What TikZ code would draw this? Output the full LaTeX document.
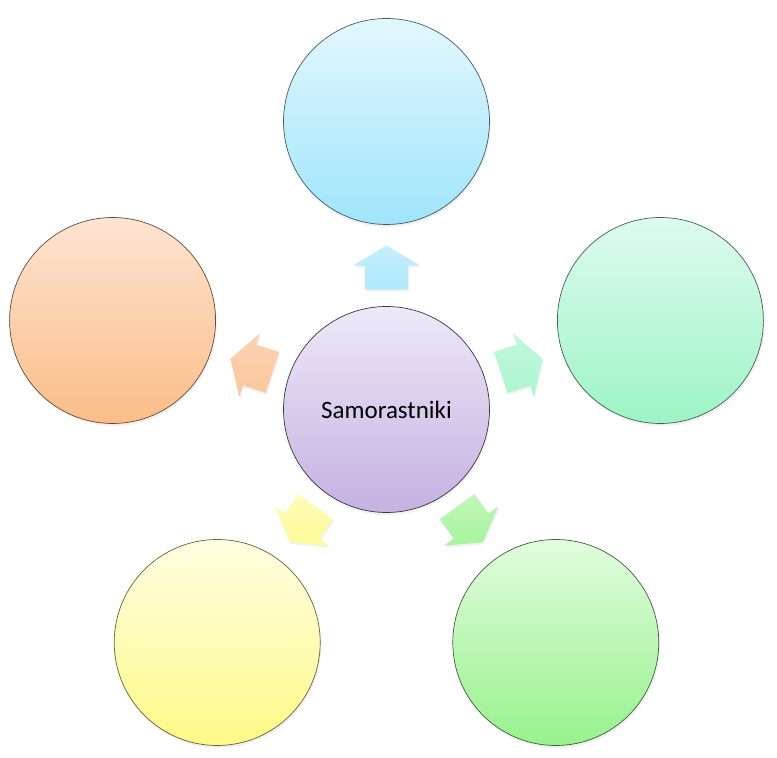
\documentclass[tikz,border=0pt]{standalone}
\usepackage{fontspec}
\setmainfont{Carlito}
\usetikzlibrary{shadows,calc}
\definecolor{cTopA}{HTML}{E3F7FD}\definecolor{cTopB}{HTML}{9FE5FB}
\definecolor{cRA}{HTML}{DDFBEE}\definecolor{cRB}{HTML}{9DF4C6}
\definecolor{cBRA}{HTML}{E2FCDE}\definecolor{cBRB}{HTML}{97F28D}
\definecolor{cBLA}{HTML}{FFFEE2}\definecolor{cBLB}{HTML}{FDFA86}
\definecolor{cLA}{HTML}{FDE4D2}\definecolor{cLB}{HTML}{FBBD88}
\definecolor{cCA}{HTML}{EEE8F7}\definecolor{cCB}{HTML}{C4B2E1}
\tikzset{
  bubble/.style={circle, minimum size=206pt, inner sep=0pt, line width=0.7pt,
    drop shadow={opacity=0.12, shadow xshift=1pt, shadow yshift=-2.5pt}},
  blockarrow/.style={draw=none,
    drop shadow={opacity=0.12, shadow xshift=1pt, shadow yshift=-2pt}}
}
\begin{document}
\begin{tikzpicture}[x=1pt,y=1pt]
\useasboundingbox (0,0) rectangle (777,758);
\coordinate (c0) at (386.5,348.5);
\node[bubble, draw=black!70!cCB, top color=cCA, bottom color=cCB, font=\fontsize{25}{30}\selectfont] (center) at (c0) {Samorastniki};
\node[bubble, draw=black!60!cTopB, top color=cTopA, bottom color=cTopB] (top) at ($(c0)+(90:288)$) {};
\node[bubble, draw=black!60!cRB, top color=cRA, bottom color=cRB] (right) at ($(c0)+(18:288)$) {};
\node[bubble, draw=black!60!cBRB, top color=cBRA, bottom color=cBRB] (bright) at ($(c0)+(-54:288)$) {};
\node[bubble, draw=black!60!cBLB, top color=cBLA, bottom color=cBLB] (bleft) at ($(c0)+(-126:288)$) {};
\node[bubble, draw=black!60!cLB, top color=cLA, bottom color=cLB] (left) at ($(c0)+(162:288)$) {};
\foreach \ang/\ca/\cb in {90/cTopA/cTopB, 18/cRA/cRB, -54/cBRA/cBRB, -126/cBLA/cBLB, 162/cLA/cLB}{
  \path[blockarrow, top color=\ca!55!\cb, bottom color=\cb!85!white, shift={(c0)}, rotate=\ang]
    (120,-21.5) -- (144,-21.5) -- (144,-33.5) -- (164,0) -- (144,33.5) -- (144,21.5) -- (120,21.5) -- cycle;
}
\end{tikzpicture}
\end{document}
